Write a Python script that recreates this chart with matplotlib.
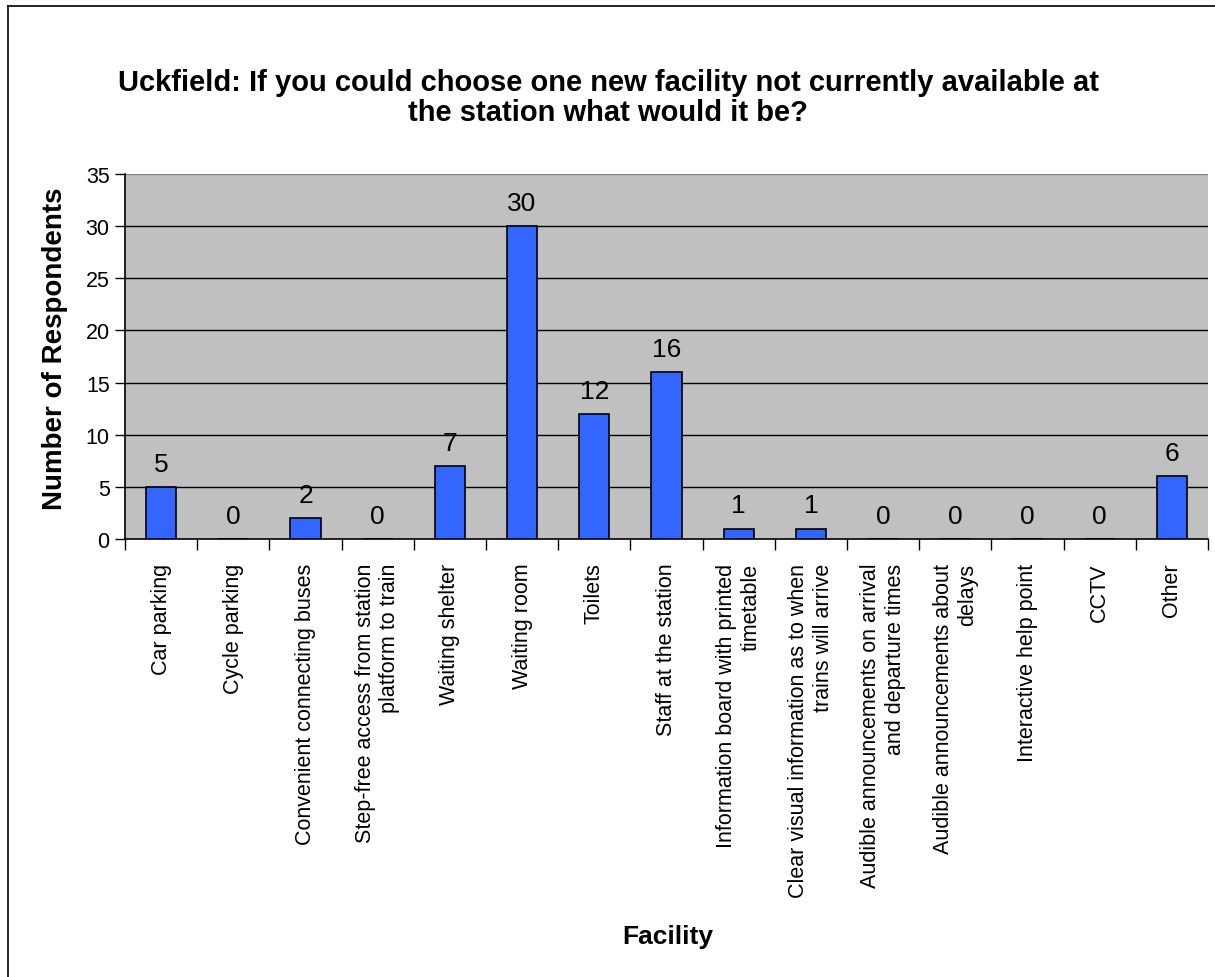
import matplotlib
matplotlib.use("Agg")
import matplotlib.pyplot as plt
from matplotlib.lines import Line2D
import numpy as np

plt.rcParams['font.family'] = ['Liberation Sans', 'DejaVu Sans']

title = "Uckfield: If you could choose one new facility not currently available at\nthe station what would it be?"
categories = [
    "Car parking",
    "Cycle parking",
    "Convenient connecting buses",
    "Step-free access from station\nplatform to train",
    "Waiting shelter",
    "Waiting room",
    "Toilets",
    "Staff at the station",
    "Information board with printed\ntimetable",
    "Clear visual information as to when\ntrains will arrive",
    "Audible announcements on arrival\nand departure times",
    "Audible announcements about\ndelays",
    "Interactive help point",
    "CCTV",
    "Other",
]
respondents = [5, 0, 2, 0, 7, 30, 12, 16, 1, 1, 0, 0, 0, 0, 6]
y_ticks = [0, 5, 10, 15, 20, 25, 30, 35]

W, H = 1215, 978
fig = plt.figure(figsize=(W / 100, H / 100), dpi=100)
ax = fig.add_axes([125 / W, 1 - 540 / H, (1208 - 125) / W, (540 - 175) / H])
ax.set_facecolor("#C0C0C0")

x = np.arange(len(categories))
ax.bar(x, respondents, width=0.42, color="#3366FF", edgecolor="black",
       linewidth=1.2, zorder=3)

for xi, v in zip(x, respondents):
    ax.annotate(str(v), (xi, v), xytext=(0, 8), textcoords="offset points",
                ha="center", va="bottom", fontsize=19, zorder=4)

ax.set_xlim(-0.5, len(categories) - 0.5)
ax.set_ylim(0, 35)
ax.set_yticks(y_ticks)
ax.set_yticklabels([str(t) for t in y_ticks], fontsize=15.5)

# horizontal gridlines
for t in y_ticks[1:-1]:
    ax.axhline(t, color="black", linewidth=1, zorder=1)
ax.axhline(35, color="#808080", linewidth=1, zorder=1)

# category ticks sit between the bars
ax.set_xticks(x)
ax.set_xticklabels(categories, rotation=90, fontsize=15.5, va="top",
                   ha="center", multialignment="right")
ax.tick_params(axis="x", which="major", length=0, pad=17)
ax.set_xticks(np.arange(-0.5, len(categories)), minor=True)
ax.tick_params(axis="x", which="minor", length=8, width=1, color="black",
               direction="out")
ax.tick_params(axis="y", length=7, width=1, direction="out", pad=4)

for side in ("top", "right"):
    ax.spines[side].set_visible(False)
for side in ("left", "bottom"):
    ax.spines[side].set_color("black")
    ax.spines[side].set_linewidth(1.2)

fig.text(608 / W, 1 - 98 / H, title, ha="center", va="center",
         fontsize=21, fontweight="bold", linespacing=1.08)
fig.text(55 / W, 1 - 349 / H, "Number of Respondents", rotation=90,
         ha="center", va="center", fontsize=20, fontweight="bold")
fig.text(668 / W, 1 - 937 / H, "Facility", ha="center", va="center",
         fontsize=19, fontweight="bold")

# outer chart frame
fig.add_artist(Line2D([8 / W, 8 / W], [0, 1 - 7 / H], color="black",
                      linewidth=1.2, transform=fig.transFigure))
fig.add_artist(Line2D([8 / W, 1], [1 - 7 / H, 1 - 7 / H], color="black",
                      linewidth=1.2, transform=fig.transFigure))

fig.savefig("out.png", dpi=100, facecolor="white")
